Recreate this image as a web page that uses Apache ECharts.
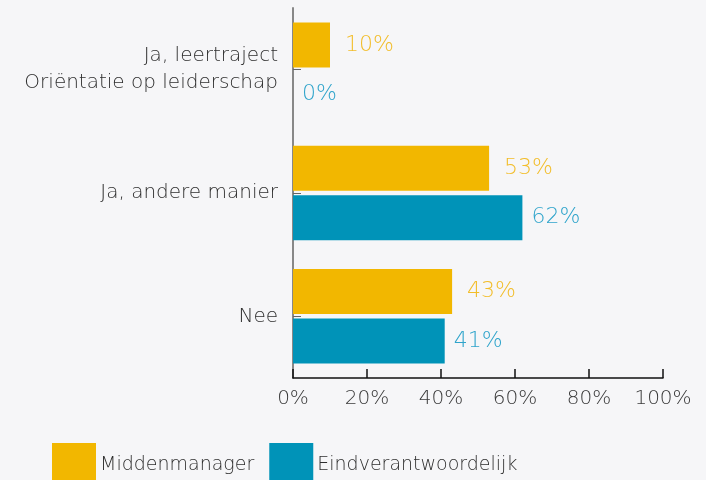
<!DOCTYPE html>
<html>
<head>
<meta charset="utf-8">
<script src="https://cdn.jsdelivr.net/npm/echarts@6/dist/echarts.min.js"></script>
<style>
  html, body { margin: 0; padding: 0; background: #f6f6f8; }
  #chart { width: 706px; height: 480px; }
</style>
</head>
<body>
<div id="chart"></div>
<script>
// categorieen van boven naar beneden
const categories = ['Ja, leertraject\nOriëntatie op leiderschap', 'Ja, andere manier', 'Nee'];
const middenmanager = [10, 53, 43];
const eindverantwoordelijk = [0, 62, 41];
const xTicks = [0, 20, 40, 60, 80, 100];

const FONT = 'DejaVu Sans';
const W = 200;

const chart = echarts.init(document.getElementById('chart'));

chart.setOption({
  backgroundColor: '#f6f6f8',
  animation: false,
  grid: { left: 293, right: 43, top: 8, bottom: 102 },
  legend: {
    left: 52,
    top: 443,
    padding: 0,
    itemWidth: 44,
    itemHeight: 44,
    itemGap: 15,
    icon: 'rect',
    textStyle: { fontFamily: FONT, fontWeight: W, fontSize: 19, color: '#2e2e2e', padding: [0, 0, 0, -1] },
    data: ['Middenmanager', 'Eindverantwoordelijk']
  },
  xAxis: {
    type: 'value',
    min: xTicks[0],
    max: xTicks[xTicks.length - 1],
    interval: 20,
    axisLine: { show: true, lineStyle: { color: '#111', width: 1.5 } },
    axisTick: { show: true, inside: true, length: 9, lineStyle: { color: '#111', width: 1.5 } },
    splitLine: { show: false },
    axisLabel: {
      formatter: '{value}%',
      fontFamily: FONT, fontWeight: W, fontSize: 20, color: '#3a3a3a', margin: 11
    }
  },
  yAxis: {
    type: 'category',
    inverse: true,
    data: categories,
    axisLine: { show: true, lineStyle: { color: '#888', width: 2 } },
    axisTick: { show: true, inside: true, alignWithLabel: true, length: 8, lineStyle: { color: '#666' } },
    axisLabel: {
      fontFamily: FONT, fontWeight: W, fontSize: 20, color: '#2e2e2e', margin: 15, lineHeight: 27
    }
  },
  series: [
    {
      name: 'Middenmanager',
      type: 'bar',
      data: middenmanager,
      barWidth: 45,
      barGap: '10%',
      itemStyle: { color: '#f2b700' },
      label: {
        show: true, position: 'right', distance: 15, formatter: '{c}%',
        fontFamily: FONT, fontWeight: W, fontSize: 22, color: '#f2bd2a'
      }
    },
    {
      name: 'Eindverantwoordelijk',
      type: 'bar',
      data: eindverantwoordelijk,
      barWidth: 45,
      itemStyle: { color: '#0093b8' },
      label: {
        show: true, position: 'right', distance: 9, formatter: '{c}%',
        fontFamily: FONT, fontWeight: W, fontSize: 22, color: '#2fa4cb'
      }
    }
  ]
});
</script>
</body>
</html>
